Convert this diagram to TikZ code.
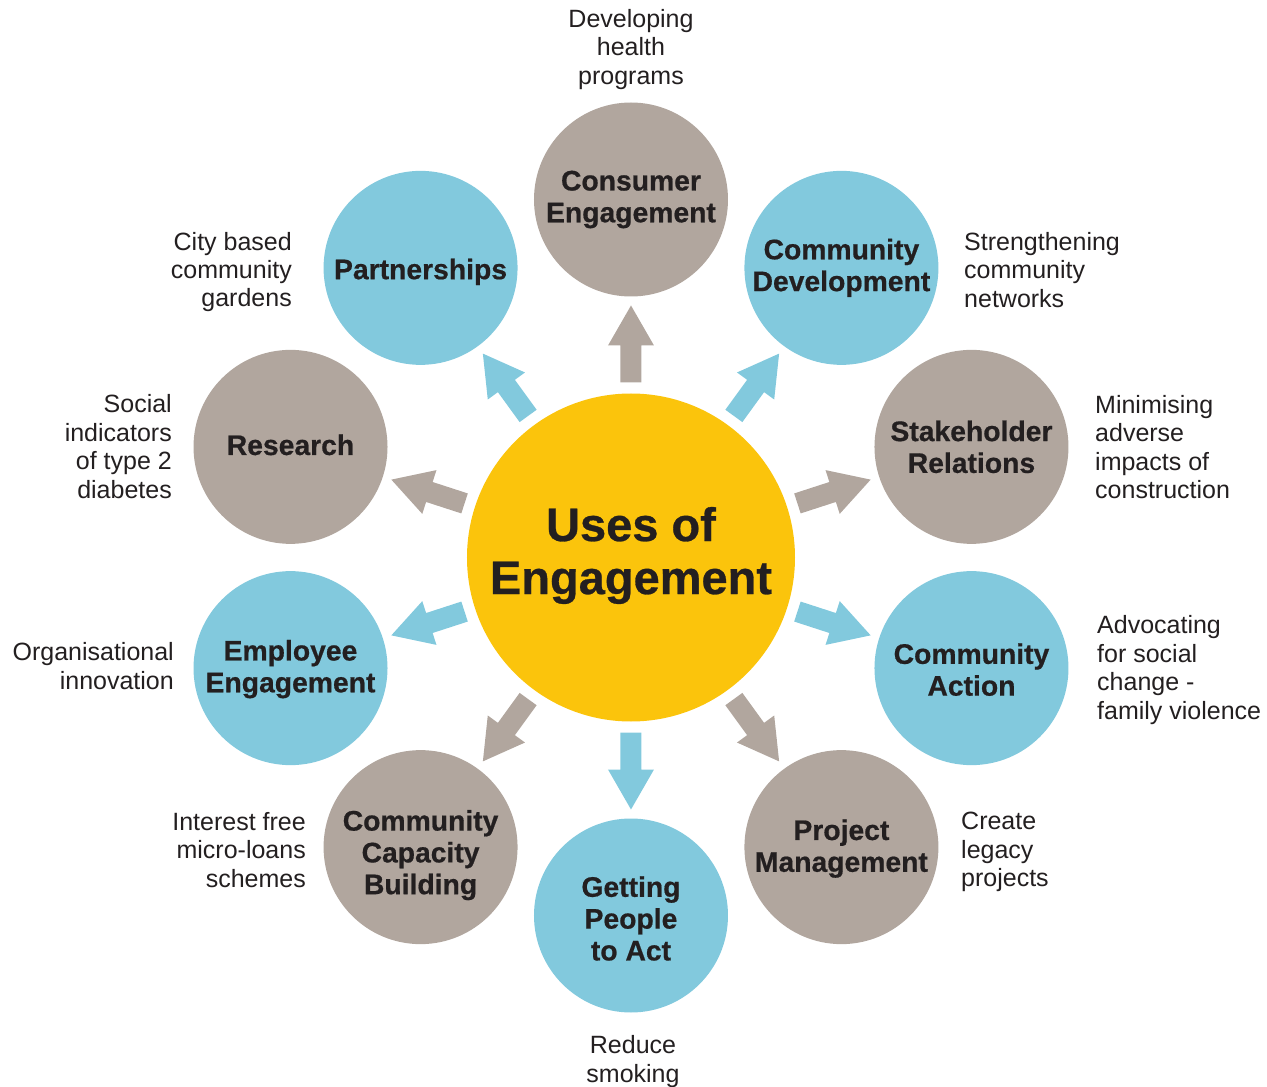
\documentclass[tikz,border=0pt]{standalone}
\usepackage{fontspec}
\setmainfont{Liberation Sans}
\newfontfamily\heavyfont[FakeBold=0.6]{Liberation Sans Bold}
\usetikzlibrary{calc}
\definecolor{cblue}{RGB}{130,201,221}
\definecolor{cgray}{RGB}{177,166,158}
\definecolor{cyel}{RGB}{251,196,12}
\definecolor{ctext}{RGB}{35,31,32}
\newcommand\spokearrow[2]{%
  \path ($(hub)!175pt!(#1)$) coordinate (p0)
        ($(hub)!212pt!(#1)$) coordinate (p1)
        ($(hub)!252pt!(#1)$) coordinate (p2);
  \fill[#2] ($(p0)!10.5pt!90:(#1)$) -- ($(p1)!10.5pt!90:(#1)$) -- ($(p1)!23pt!90:(#1)$)
    -- (p2) -- ($(p1)!23pt!-90:(#1)$) -- ($(p1)!10.5pt!-90:(#1)$) -- ($(p0)!10.5pt!-90:(#1)$) -- cycle;}
\begin{document}
\begin{tikzpicture}[x=1pt,y=1pt,
  hubstyle/.style={circle,fill=cyel,minimum size=328pt,inner sep=0pt},
  hubtext/.style={align=center,text=ctext,inner sep=0pt,font=\fontsize{47}{53}\selectfont\heavyfont},
  spoke/.style={circle,minimum size=194pt,inner sep=0pt},
  spoketext/.style={align=center,text=ctext,inner sep=0pt,font=\fontsize{28.3}{31.8}\selectfont\heavyfont},
  bluec/.style={spoke,fill=cblue},
  grayc/.style={spoke,fill=cgray},
  desc/.style={inner sep=0pt,text=ctext,font=\fontsize{25}{28.4}\selectfont},
]
\useasboundingbox (-631,-529.5) rectangle (636,557.5);
\node[hubstyle,label={[hubtext,yshift=2pt]center:Uses of\\Engagement}] (hub) at (0,0) {};

\node[grayc,label={[spoketext]center:Consumer\\Engagement}] (ce) at (90:358) {};
\node[bluec,label={[spoketext]center:Community\\Development}] (cd) at (54:358) {};
\node[grayc,label={[spoketext]center:Stakeholder\\Relations}] (sr) at (18:358) {};
\node[bluec,label={[spoketext,yshift=-1.5pt]center:Community\\Action}] (ca) at (-18:358) {};
\node[grayc,label={[spoketext,yshift=-1.5pt]center:Project\\Management}] (pm) at (-54:358) {};
\node[bluec,label={[spoketext,yshift=-3pt]center:Getting\\People\\to Act}] (gp) at (-90:358) {};
\node[grayc,label={[spoketext,yshift=-8pt]center:Community\\Capacity\\Building}] (cc) at (-126:358) {};
\node[bluec,label={[spoketext,yshift=-1pt]center:Employee\\Engagement}] (ee) at (-162:358) {};
\node[grayc,label={[spoketext,yshift=2pt]center:Research}] (re) at (162:358) {};
\node[bluec,label={[spoketext,yshift=-4pt]center:Partnerships}] (pa) at (126:358) {};

\foreach \n/\c in {ce/cgray,cd/cblue,sr/cgray,ca/cblue,pm/cgray,gp/cblue,cc/cgray,ee/cblue,re/cgray,pa/cblue}
  {\spokearrow{\n}{\c}}

\node[desc,align=center] (dce) at (0,508) {Developing\\health\\programs};
\node[desc,align=right,anchor=east] (dpa) at (-339,285.5) {City based\\community\\gardens};
\node[desc,align=left,anchor=west] (dcd) at (333,287.5) {Strengthening\\community\\networks};
\node[desc,align=right,anchor=east] (dre) at (-459,111) {Social\\indicators\\of type 2\\diabetes};
\node[desc,align=left,anchor=west] (dsr) at (464,110.5) {Minimising\\adverse\\impacts of\\construction};
\node[desc,align=right,anchor=east] (dee) at (-457,-108.5) {Organisational\\innovation};
\node[desc,align=left,anchor=west] (dca) at (466,-112.6) {Advocating\\for social\\change -\\family violence};
\node[desc,align=right,anchor=east] (dcc) at (-325,-292.5) {Interest free\\micro-loans\\schemes};
\node[desc,align=left,anchor=west] (dpm) at (330,-294.6) {Create\\legacy\\projects};
\node[desc,align=center] (dgp) at (2,-504) {Reduce\\smoking};
\end{tikzpicture}
\end{document}
